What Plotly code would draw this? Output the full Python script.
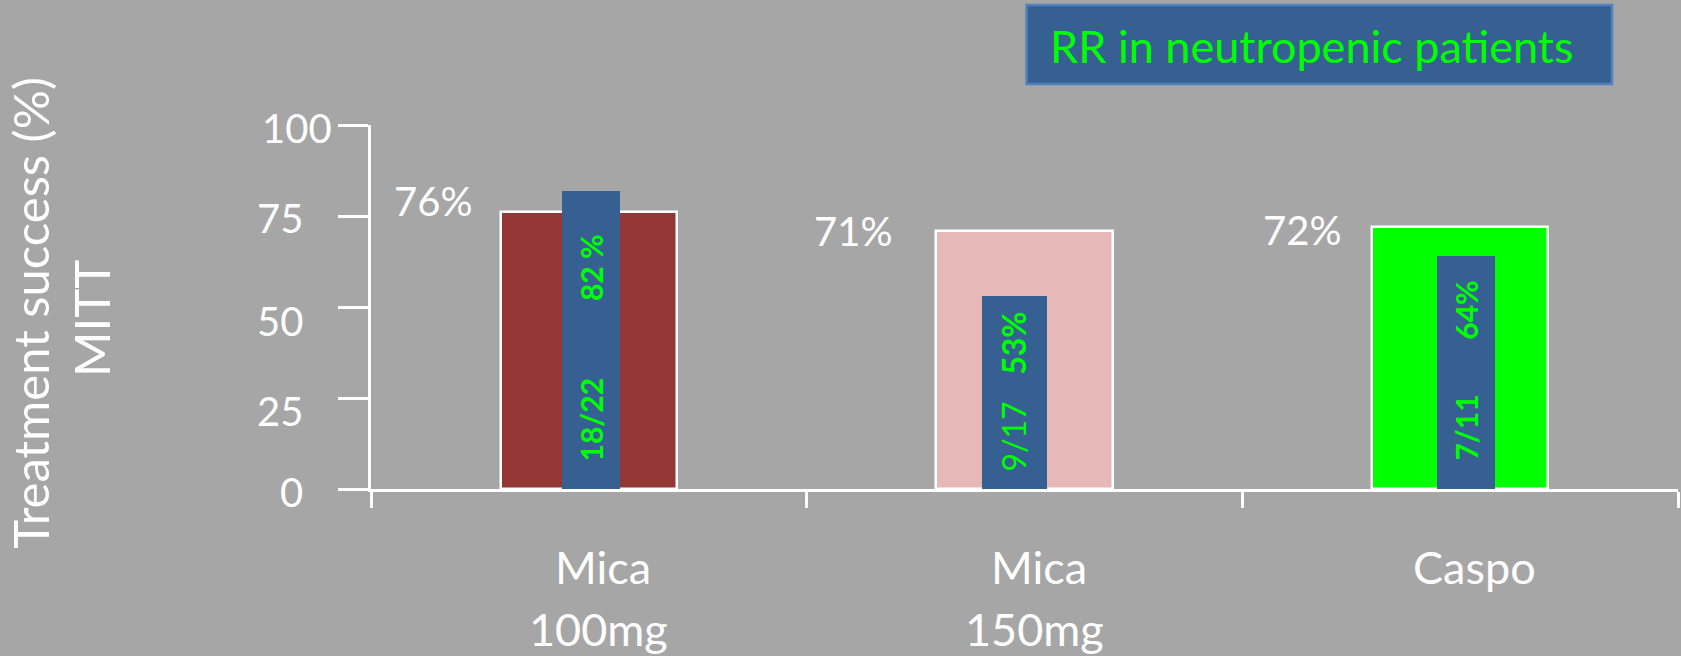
import plotly.graph_objects as go

# Treatment arms and their results
categories = ["Mica 100mg", "Mica 150mg", "Caspo"]
arm_name = ["Mica", "Mica", "Caspo"]
arm_dose = ["100mg", "150mg", ""]
overall_success = [76, 71, 72]             # % treatment success (MITT)
neutropenic_rr = [82, 53, 64]              # % response rate in neutropenic patients
neutropenic_rr_text = ["82 %", "53%", "64%"]
neutropenic_counts = ["18/22", "9/17", "7/11"]
y_ticks = [0, 25, 50, 75, 100]

BG = "#A6A6A6"
WHITE = "#FFFFFF"
GREEN = "#00FF00"
BLUE = "#366092"
FONT = "Lato"

outer_colors = ["#953735", "#E6B9B8", "#00FF00"]

# inner bar widths and horizontal nudges (category units)
inner_w = [0.135, 0.149, 0.135]
inner_shift = [0.005, -0.024, 0.0135]

fig = go.Figure()

fig.add_trace(go.Bar(
    x=categories, y=overall_success, width=0.405,
    marker=dict(color=outer_colors, line=dict(color=WHITE, width=2.5)),
    hoverinfo="skip", showlegend=False,
))
fig.add_trace(go.Bar(
    x=categories, y=neutropenic_rr,
    width=inner_w,
    offset=[-w / 2 + s for w, s in zip(inner_w, inner_shift)],
    marker=dict(color=BLUE, line=dict(width=0)),
    hoverinfo="skip", showlegend=False,
))

annotations = []

# overall success labels, to the left of each bar
label_xshift = [-115, -131, -117]
label_yshift = [11, 0, -3]
for i, v in enumerate(overall_success):
    annotations.append(dict(
        x=i, y=v, xref="x", yref="y", text=f"{v}%", showarrow=False,
        xanchor="right", yanchor="middle",
        xshift=label_xshift[i], yshift=label_yshift[i],
        font=dict(family=FONT, size=40, color=WHITE),
    ))

# rotated labels inside the neutropenic bars
pct_pos = [60.7, 39.9, 49.0]
cnt_pos = [19.1, 14.4, 16.9]
pct_size = [30, 32, 30]
cnt_size = [30, 32, 30]
cnt_weight = ["bold", "normal", "bold"]
for i in range(len(categories)):
    xc = i + inner_shift[i]
    annotations.append(dict(
        x=xc, y=pct_pos[i], xref="x", yref="y", text=neutropenic_rr_text[i],
        showarrow=False, textangle=-90, xanchor="center", yanchor="middle",
        font=dict(family=FONT, size=pct_size[i], color=GREEN, weight="bold"),
    ))
    annotations.append(dict(
        x=xc, y=cnt_pos[i], xref="x", yref="y", text=neutropenic_counts[i],
        showarrow=False, textangle=-90, xanchor="center", yanchor="middle",
        font=dict(family=FONT, size=cnt_size[i], color=GREEN, weight=cnt_weight[i]),
    ))

# y tick labels
tick_right = [-66, -66, -66, -66, -37]
tick_yshift = [-3, -13, -14, -2, -3]
for t, xs, ys in zip(y_ticks, tick_right, tick_yshift):
    annotations.append(dict(
        x=0, y=t, xref="paper", yref="y", text=str(t), showarrow=False,
        xanchor="right", yanchor="middle", xshift=xs, yshift=ys,
        font=dict(family=FONT, size=40, color=WHITE),
    ))

# category labels, two lines under the axis
for i in range(len(categories)):
    annotations.append(dict(
        x=i, y=0, xref="x", yref="y", text=arm_name[i], showarrow=False,
        xanchor="center", yanchor="middle", xshift=14, yshift=-78,
        font=dict(family=FONT, size=45, color=WHITE),
    ))
    if arm_dose[i]:
        annotations.append(dict(
            x=i, y=0, xref="x", yref="y", text=arm_dose[i], showarrow=False,
            xanchor="center", yanchor="middle", xshift=10, yshift=-140,
            font=dict(family=FONT, size=45, color=WHITE),
        ))

# y axis title (two lines)
annotations.append(dict(
    x=0, y=48.4, xref="paper", yref="y", text="Treatment success (%)",
    showarrow=False, textangle=-90, xanchor="center", yanchor="middle",
    xshift=-341, font=dict(family=FONT, size=49, color=WHITE),
))
annotations.append(dict(
    x=0, y=46.7, xref="paper", yref="y", text="MITT",
    showarrow=False, textangle=-90, xanchor="center", yanchor="middle",
    xshift=-280, font=dict(family=FONT, size=49, color=WHITE),
))

# key box
annotations.append(dict(
    x=0.5181, y=1.218, xref="paper", yref="paper",
    text="RR in neutropenic patients", showarrow=False,
    xanchor="left", yanchor="middle",
    font=dict(family=FONT, size=45, color=GREEN),
))

fig.update_layout(
    width=1681, height=656,
    margin=dict(l=370.7, r=3, t=125, b=166.7),
    paper_bgcolor=BG, plot_bgcolor=BG,
    barmode="overlay", bargap=0,
    annotations=annotations,
    shapes=[dict(
        type="rect", xref="paper", yref="paper",
        x0=0.5016, x1=0.9495, y0=1.1126, y1=1.3294,
        fillcolor=BLUE, line=dict(color="#4F81BD", width=2.5), layer="above",
    )],
    xaxis=dict(
        type="category", range=[-0.5, 2.5],
        showline=True, linecolor=WHITE, linewidth=2.5,
        ticks="outside", tickson="boundaries", ticklen=16,
        tickcolor=WHITE, tickwidth=2.5,
        showticklabels=False, showgrid=False, zeroline=False,
    ),
    yaxis=dict(
        range=[0, 100], tickvals=y_ticks,
        showline=True, linecolor=WHITE, linewidth=2.5,
        ticks="outside", ticklen=30, tickcolor=WHITE, tickwidth=2.5,
        showticklabels=False, showgrid=False, zeroline=False,
    ),
)

fig.write_html("out.html")
